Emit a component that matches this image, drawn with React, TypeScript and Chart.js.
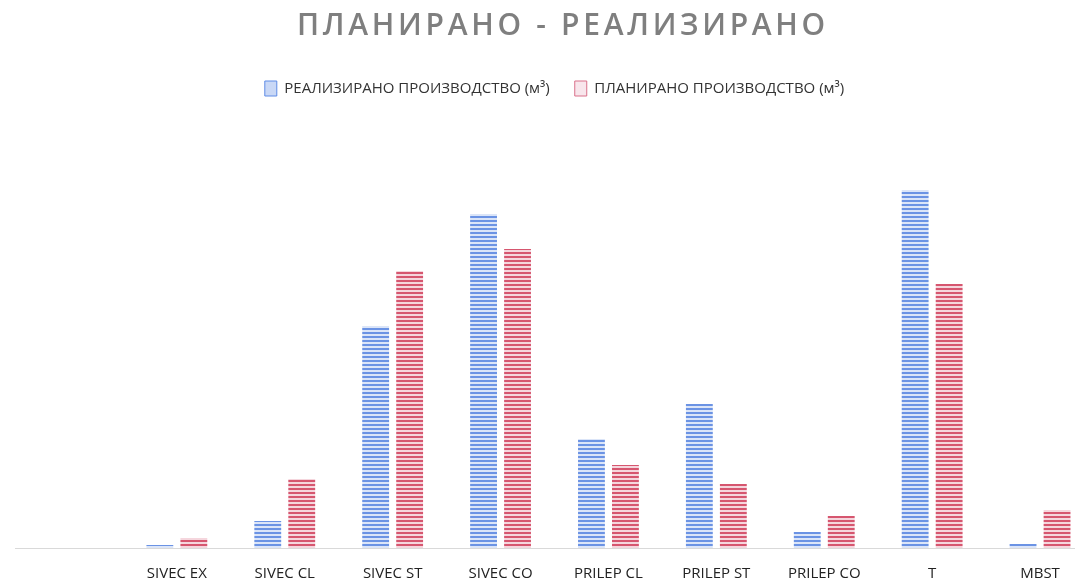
import React, { useEffect, useRef } from "react";
import { Chart, registerables } from "chart.js";

Chart.register(...registerables);

const titleText = "ПЛАНИРАНО - РЕАЛИЗИРАНО";
const categories = ["", "SIVEC EX", "SIVEC CL", "SIVEC ST", "SIVEC CO", "PRILEP CL", "PRILEP ST", "PRILEP CO", "T", "MBST"];
const realizedLabel = "РЕАЛИЗИРАНО ПРОИЗВОДСТВО (м³)";
const plannedLabel = "ПЛАНИРАНО ПРОИЗВОДСТВО (м³)";
const realized = [0, 3, 27, 222, 334, 109, 144, 16, 358, 4];
const planned = [0, 10, 69, 277, 299, 83, 64, 32, 264, 38];

function stripePattern(ctx: CanvasRenderingContext2D, line: string, bg: string) {
  const c = document.createElement("canvas");
  c.width = 8;
  c.height = 4;
  const g = c.getContext("2d")!;
  g.fillStyle = bg;
  g.fillRect(0, 0, 8, 4);
  g.fillStyle = line;
  g.fillRect(0, 0, 8, 2);
  return ctx.createPattern(c, "repeat")!;
}

const titlePlugin = {
  id: "spacedTitle",
  afterDraw(chart: any) {
    const ctx = chart.ctx as CanvasRenderingContext2D;
    ctx.save();
    ctx.font = '600 30px "Open Sans", sans-serif';
    (ctx as any).letterSpacing = "3.7px";
    ctx.fillStyle = "#7f7f7f";
    ctx.textAlign = "center";
    ctx.textBaseline = "alphabetic";
    ctx.fillText(titleText, 563, 35);
    ctx.restore();
  },
};

export default function App() {
  const ref = useRef<HTMLCanvasElement>(null);
  useEffect(() => {
    const canvas = ref.current!;
    const ctx = canvas.getContext("2d")!;
    const blue = stripePattern(ctx, "#6b93e4", "#dbe5f8");
    const red = stripePattern(ctx, "#d6566f", "#f5d6dd");
    const chart = new Chart(canvas, {
      type: "bar",
      data: {
        labels: categories,
        datasets: [
          { label: realizedLabel, data: realized, backgroundColor: blue as any, borderWidth: 0 },
          { label: plannedLabel, data: planned, backgroundColor: red as any, borderWidth: 0 },
        ],
      },
      options: {
        animation: false,
        responsive: false,
        layout: { padding: { top: 56, left: 15, right: 16, bottom: -16 } },
        datasets: { bar: { categoryPercentage: 0.63, barPercentage: 0.79 } },
        plugins: {
          title: { display: false },
          tooltip: { enabled: false },
          legend: {
            position: "top",
            labels: {
              boxWidth: 12,
              boxHeight: 15,
              padding: 25,
              color: "#333333",
              font: { family: '"Open Sans", sans-serif', size: 15 },
              generateLabels: () => [
                { text: realizedLabel, fillStyle: "#c9d8f6", strokeStyle: "#5f8ce6", lineWidth: 1, datasetIndex: 0, hidden: false, fontColor: "#333333" },
                { text: plannedLabel, fillStyle: "#f8e6ec", strokeStyle: "#d9708a", lineWidth: 1, datasetIndex: 1, hidden: false, fontColor: "#333333" },
              ],
            },
          },
        },
        scales: {
          x: {
            grid: { display: false, drawTicks: false },
            border: { display: true, color: "#d9d9d9", width: 1 },
            ticks: {
              padding: 17,
              color: "#222222",
              font: { family: '"Open Sans", sans-serif', size: 15 },
              maxRotation: 0,
              autoSkip: false,
            },
          },
          y: {
            display: false,
            min: 0,
            max: 442,
          },
        },
      },
      plugins: [titlePlugin],
    });
    return () => chart.destroy();
  }, []);
  return (
    <div style={{ position: "fixed", left: 0, top: 0, width: 1075, height: 584, overflow: "hidden", background: "#ffffff" }}>
      <canvas ref={ref} width={1110} height={584} style={{ display: "block", width: 1110, height: 584 }} />
    </div>
  );
}
